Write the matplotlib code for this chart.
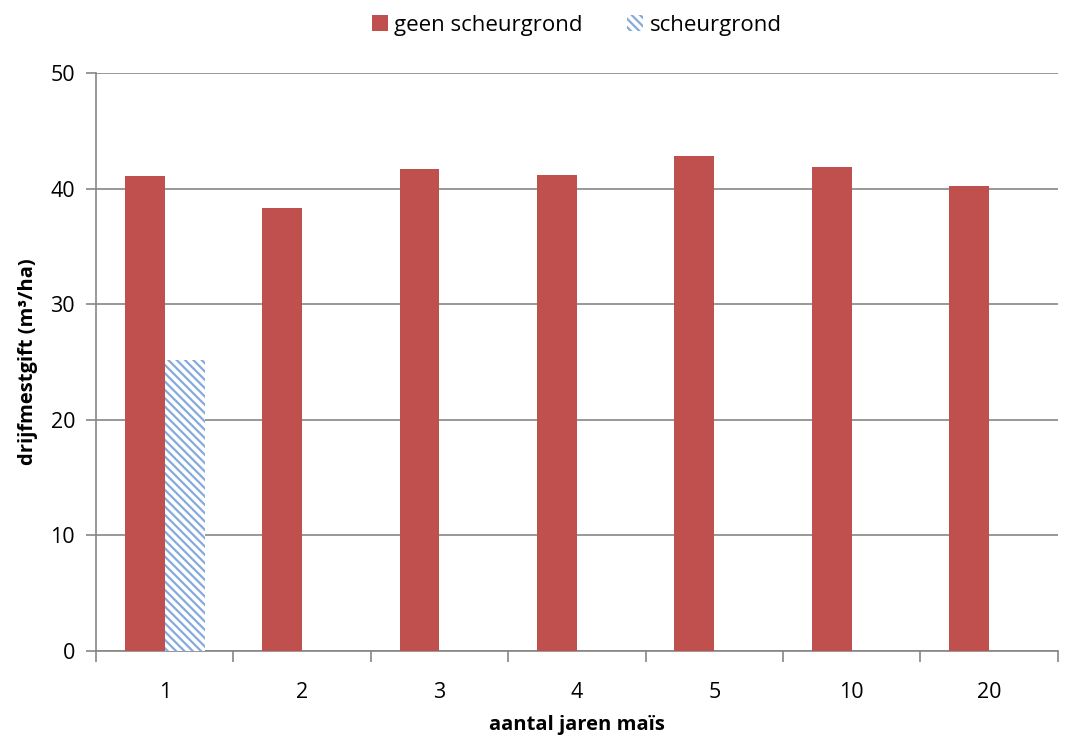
import numpy as np
import matplotlib
matplotlib.use("Agg")
import matplotlib.pyplot as plt
from matplotlib.ticker import FixedLocator

plt.rcParams['font.family'] = ['Open Sans', 'DejaVu Sans']
plt.rcParams['hatch.linewidth'] = 1.6

# aantal jaren maïs en de drijfmestgift per categorie
jaren = ['1', '2', '3', '4', '5', '10', '20']
geen_scheurgrond = [41.1, 38.3, 41.7, 41.2, 42.8, 41.9, 40.2]
scheurgrond = [25.2, None, None, None, None, None, None]

rood = '#c0504d'
blauw = '#86aadc'
grijs = '#868686'

fig = plt.figure(figsize=(10.75, 7.4), dpi=100)
ax = fig.add_axes([0.0893, 0.1203, 0.8947, 0.7811])

x = np.arange(len(jaren))
breedte = 0.29

ax.bar(x - breedte / 2, geen_scheurgrond, breedte, color=rood,
       label='geen scheurgrond', zorder=3)
sx = [xi + breedte / 2 for xi, v in zip(x, scheurgrond) if v is not None]
sv = [v for v in scheurgrond if v is not None]
ax.bar(sx, sv, breedte, color='white', edgecolor=blauw, hatch='\\\\\\\\',
       linewidth=0, label='scheurgrond', zorder=3)

ax.set_xlim(-0.5, len(jaren) - 0.5)
ax.set_ylim(0, 50)
ax.set_yticks(range(0, 51, 10))
ax.yaxis.grid(True, color=grijs, linewidth=1.2, zorder=0)

ax.set_xticks(x)
ax.set_xticklabels(jaren)
ax.xaxis.set_minor_locator(FixedLocator(np.arange(-0.5, len(jaren), 1)))
ax.tick_params(axis='x', which='major', length=0, pad=22, labelsize=15.5)
ax.tick_params(axis='x', which='minor', length=8, width=1.2, color=grijs)
ax.tick_params(axis='y', length=7, width=1.2, color=grijs, labelsize=15.5, pad=8)

for kant in ['top', 'right']:
    ax.spines[kant].set_visible(False)
for kant in ['left', 'bottom']:
    ax.spines[kant].set_color(grijs)
    ax.spines[kant].set_linewidth(1.2)

ax.set_xlabel('aantal jaren maïs', fontsize=14.5, fontweight='bold', labelpad=9)
ax.set_ylabel('drijfmestgift (m³/ha)', fontsize=14.5, fontweight='bold', labelpad=9)

ax.legend(loc='upper center', bbox_to_anchor=(0.5, 1.135), ncol=2, frameon=False,
          fontsize=16, handlelength=0.7, handleheight=0.7, handletextpad=0.3,
          columnspacing=2.0)

fig.savefig('out.png', dpi=100)
